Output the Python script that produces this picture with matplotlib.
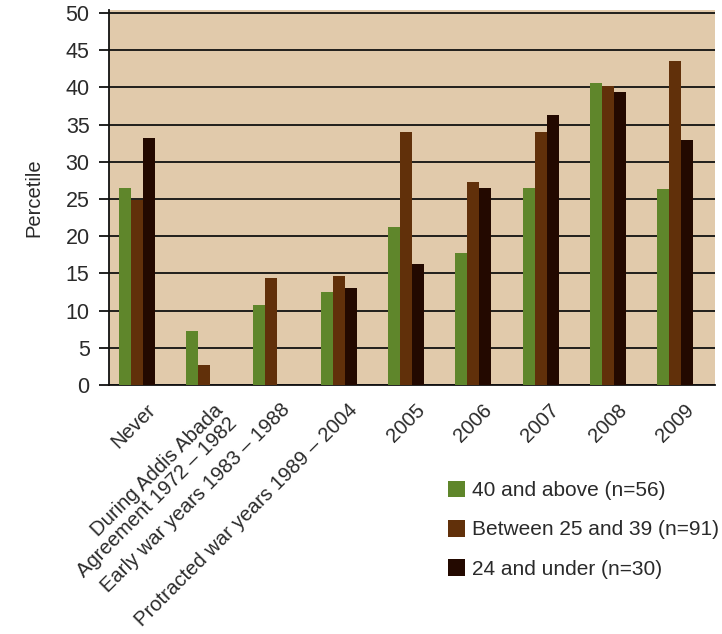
import matplotlib.pyplot as plt
import matplotlib.transforms as mtransforms
import numpy as np
from matplotlib.patches import Patch

plt.rcParams['font.family'] = ['Liberation Sans', 'DejaVu Sans']

categories = [
    'Never',
    'During Addis Abada\nAgreement 1972 – 1982',
    'Early war years 1983 – 1988',
    'Protracted war years 1989 – 2004',
    '2005', '2006', '2007', '2008', '2009',
]
series_names = ['40 and above (n=56)', 'Between 25 and 39 (n=91)', '24 and under (n=30)']
age_40_up = [26.5, 7.3, 10.8, 12.5, 21.2, 17.7, 26.5, 40.6, 26.3]
age_25_39 = [24.9, 2.7, 14.4, 14.6, 34.0, 27.3, 34.0, 40.2, 43.5]
age_24_under = [33.2, 0, 0, 13.0, 16.3, 26.5, 36.3, 39.4, 32.9]
yticks = list(range(0, 51, 5))

colors = ['#5f862b', '#61300a', '#230900']
bg = '#e1caab'
text_col = '#2a2a2a'

fig = plt.figure(figsize=(7.22, 6.34), dpi=100)
ax = fig.add_axes([109 / 722, 1 - 385 / 634, 606 / 722, 375 / 634])
ax.set_facecolor(bg)

x = np.arange(len(categories))
w = 0.178
for k, vals in enumerate([age_40_up, age_25_39, age_24_under]):
    ax.bar(x + (k - 1) * w, vals, width=w, color=colors[k], zorder=3)

ax.set_xlim(-0.41, 8.59)
ax.set_ylim(0, 50.4)
ax.set_yticks(yticks)
ax.yaxis.grid(True, color='#111111', linewidth=1.3, zorder=1)
ax.set_axisbelow(True)

for s in ['top', 'right']:
    ax.spines[s].set_visible(False)
ax.spines['left'].set_color('#111111')
ax.spines['bottom'].set_color('#111111')
ax.spines['left'].set_linewidth(1.3)
ax.spines['bottom'].set_linewidth(1.3)

ax.tick_params(axis='y', direction='out', length=7, width=1.3, color='#111111',
               labelsize=15.5, labelcolor=text_col, pad=7)
ax.tick_params(axis='x', length=0, pad=11)
ax.set_xticks(x)
ax.set_xticklabels(categories, rotation=45, ha='right', va='top',
                   rotation_mode='anchor', fontsize=14.6, color=text_col,
                   linespacing=1.05)

# nudge the slanted category labels a little to the right
shift = mtransforms.ScaledTranslation(9 / 100, 0, fig.dpi_scale_trans)
for lbl in ax.get_xticklabels():
    lbl.set_transform(lbl.get_transform() + shift)

ax.set_ylabel('Percetile', fontsize=14.5, color=text_col, labelpad=16)

handles = [Patch(facecolor=c, edgecolor='none') for c in colors]
fig.legend(handles, series_names, loc='upper left',
           bbox_to_anchor=(433 / 722, 1 - 466 / 634), frameon=False,
           fontsize=15, labelcolor=text_col, labelspacing=0.95,
           handlelength=0.85, handleheight=0.85, handletextpad=0.3,
           borderpad=0.2)

plt.savefig('out.png', dpi=100)
